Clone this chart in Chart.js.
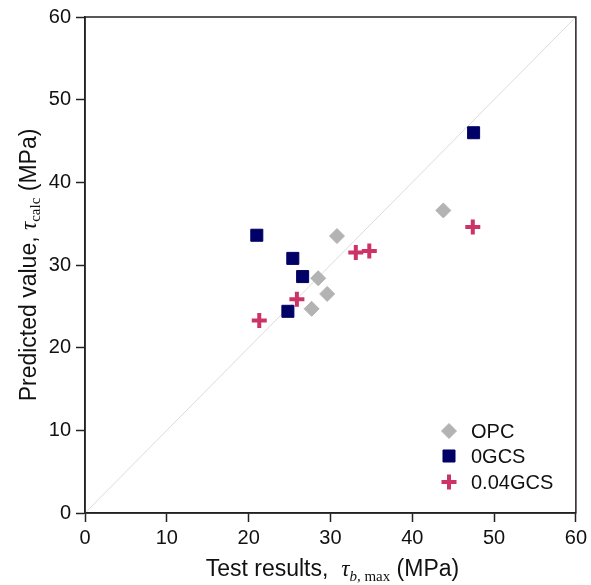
<!DOCTYPE html>
<html>
<head>
<meta charset="utf-8">
<script src="https://cdn.jsdelivr.net/npm/chart.js@4/dist/chart.umd.min.js"></script>
<style>
  html, body { margin: 0; padding: 0; background: #fff; }
  #wrap { width: 591px; height: 585px; position: relative; }
</style>
</head>
<body>
<div id="wrap"><canvas id="scatter"></canvas></div>
<script>
// data (MPa)
const opcX = [43.8, 30.8, 28.5, 29.6, 27.7];
const opcY = [36.6, 33.5, 28.4, 26.5, 24.7];

const gcs0X = [21.0, 25.4, 26.6, 24.8, 47.5];
const gcs0Y = [33.6, 30.8, 28.6, 24.4, 46.0];

const gcs004X = [21.3, 25.9, 33.1, 34.75, 47.4];
const gcs004Y = [23.3, 25.85, 31.5, 31.7, 34.6];

const equalityLine = [0, 60]; // tau_calc = tau_b,max
const tickStep = 10;

const seriesNames = ["OPC", "0GCS", "0.04GCS"];

function toPoints(xs, ys) {
  return xs.map((x, i) => ({ x: x, y: ys[i] }));
}

const SANS = '"Liberation Sans", Arial, sans-serif';
const SERIF = '"Liberation Serif", "Times New Roman", serif';

const styles = [
  { pointStyle: "rectRot", radius: 7.5, borderWidth: 1, color: "#b3b3b3" },
  { pointStyle: "rect", radius: 8.5, borderWidth: 1, color: "#000066" },
  { pointStyle: "cross", radius: 7.5, borderWidth: 4, color: "#cc3366" },
];

// draws a line of text made of pieces with different fonts
function drawRich(ctx, parts, cx, cy, angle) {
  ctx.save();
  ctx.translate(cx, cy);
  ctx.rotate(angle);
  let total = 0;
  parts.forEach((p) => {
    ctx.font = p.font;
    total += ctx.measureText(p.text).width;
  });
  let x = -total / 2;
  ctx.fillStyle = "#111";
  ctx.textBaseline = "alphabetic";
  parts.forEach((p) => {
    ctx.font = p.font;
    ctx.fillText(p.text, x, p.dy || 0);
    x += ctx.measureText(p.text).width;
  });
  ctx.restore();
}

const extras = {
  id: "extras",
  afterDraw(chart) {
    const ctx = chart.ctx;
    const a = chart.chartArea;

    // frame
    ctx.save();
    ctx.strokeStyle = "#222";
    ctx.lineWidth = 1.5;
    ctx.strokeRect(a.left, a.top, a.right - a.left, a.bottom - a.top);
    ctx.restore();

    // axis titles
    drawRich(ctx, [
      { text: "Test results,  ", font: "23px " + SANS },
      { text: "\u03C4", font: "italic 23px " + SERIF },
      { text: "b,", font: "italic 15px " + SERIF, dy: 5 },
      { text: " max", font: "15px " + SERIF, dy: 5 },
      { text: " (MPa)", font: "23px " + SANS },
    ], (a.left + a.right) / 2 + 2, 576, 0);

    drawRich(ctx, [
      { text: "Predicted value, ", font: "23px " + SANS },
      { text: "\u03C4", font: "italic 23px " + SERIF },
      { text: "calc", font: "15px " + SERIF, dy: 4 },
      { text: " (MPa)", font: "23px " + SANS },
    ], 36, (a.top + a.bottom) / 2, -Math.PI / 2);

    // legend inside the plot, lower right
    const rows = [-82, -57, -31];
    ctx.save();
    seriesNames.forEach((name, i) => {
      const s = styles[i];
      const mx = a.left + 364;
      const my = a.bottom + rows[i];
      ctx.fillStyle = s.color;
      ctx.strokeStyle = s.color;
      ctx.lineWidth = s.borderWidth;
      Chart.helpers.drawPoint(ctx, {
        pointStyle: s.pointStyle, radius: s.radius, rotation: 0, borderWidth: s.borderWidth,
      }, mx, my);
      ctx.fillStyle = "#111";
      ctx.font = "20px " + SANS;
      ctx.textBaseline = "middle";
      ctx.textAlign = "left";
      ctx.fillText(name, a.left + 386, my + 1);
    });
    ctx.restore();
  },
};

function scatterSet(label, xs, ys, s) {
  return {
    label: label,
    data: toPoints(xs, ys),
    pointStyle: s.pointStyle,
    pointRadius: s.radius,
    pointHoverRadius: s.radius,
    pointBorderWidth: s.borderWidth,
    backgroundColor: s.color,
    borderColor: s.color,
    showLine: false,
  };
}

new Chart(document.getElementById("scatter"), {
  type: "scatter",
  data: {
    datasets: [
      {
        label: "1:1",
        data: toPoints(equalityLine, equalityLine),
        showLine: true,
        borderColor: "#dcdcdc",
        borderWidth: 1,
        pointRadius: 0,
        order: 10,
      },
      scatterSet(seriesNames[0], opcX, opcY, styles[0]),
      scatterSet(seriesNames[1], gcs0X, gcs0Y, styles[1]),
      scatterSet(seriesNames[2], gcs004X, gcs004Y, styles[2]),
    ],
  },
  options: {
    responsive: true,
    maintainAspectRatio: false,
    animation: false,
    layout: { padding: { left: 40, right: 14, top: 17, bottom: 32 } },
    plugins: {
      legend: { display: false },
      tooltip: { enabled: false },
    },
    scales: {
      x: {
        type: "linear",
        min: 0,
        max: 60,
        ticks: { stepSize: tickStep, color: "#111", font: { family: SANS, size: 20 }, padding: 4 },
        grid: { drawOnChartArea: false, tickLength: 9, tickColor: "#222", tickWidth: 1.5 },
        border: { color: "#222", width: 1.5 },
        afterFit: (scale) => { scale.height = 40; },
      },
      y: {
        type: "linear",
        min: 0,
        max: 60,
        ticks: { stepSize: tickStep, color: "#111", font: { family: SANS, size: 20 }, padding: 5 },
        grid: { drawOnChartArea: false, tickLength: 9, tickColor: "#222", tickWidth: 1.5 },
        border: { color: "#222", width: 1.5 },
        afterFit: (scale) => { scale.width = 45; },
      },
    },
  },
  plugins: [extras],
});
</script>
</body>
</html>
